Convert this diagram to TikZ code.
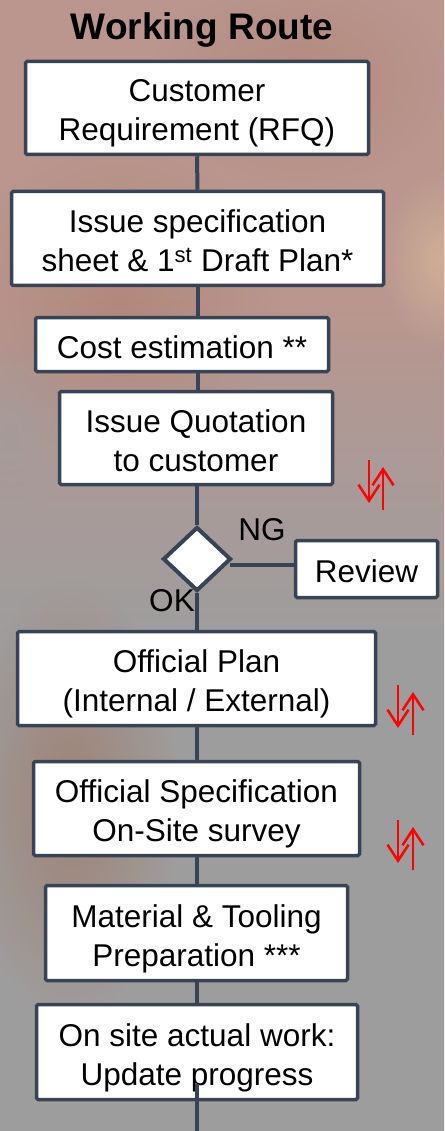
\documentclass[tikz,border=0pt]{standalone}
\usepackage{fontspec}
\setmainfont{Liberation Sans}
\usetikzlibrary{shapes.geometric,arrows.meta,fadings}
\definecolor{boxc}{RGB}{56,68,86}
\definecolor{bgtop}{RGB}{186,150,142}
\definecolor{bgmid}{RGB}{170,154,152}
\definecolor{bgbot}{RGB}{158,157,157}
\definecolor{smoke}{RGB}{160,105,80}
\definecolor{glow}{RGB}{225,195,160}
\definecolor{redc}{RGB}{255,0,0}
\pgfdeclareverticalshading{bgshade}{100bp}{%
  color(0bp)=(bgbot); color(47bp)=(bgbot); color(54bp)=(bgmid);
  color(62bp)=(bgtop); color(100bp)=(bgtop)}
\tikzfading[name=softblob, inner color=transparent!0, outer color=transparent!100]
\newcommand{\sx}{\rule[-7pt]{0pt}{41pt}}
\newcommand{\boxfont}{\fontsize{31.5}{39}\selectfont\lineskiplimit=-60pt\relax\lineskip=0pt\relax}
\tikzset{
  stepbox/.style={draw=boxc, line width=3.5pt, fill=white, rounded corners=1.5pt,
    inner sep=0pt, align=center, font=\boxfont},
  conn/.style={draw=boxc, line width=4pt},
  lbl/.style={font=\fontsize{31.5}{39}\selectfont, inner sep=0pt},
  redarr/.style={draw=redc, line width=2.5pt, -{Straight Barb[length=16pt,width=21pt,line width=2.5pt]}},
  decision/.style={diamond, draw=boxc, line width=4pt, fill=white, inner sep=0pt,
    minimum width=68pt, minimum height=64pt},
  blob/.style={path fading=softblob}
}
\begin{document}
\begin{tikzpicture}[x=1pt,y=-1pt]
\useasboundingbox (0,0) rectangle (444,1131);
\shade[shading=bgshade] (0,0) rectangle (444,1131);
% faint smoke in the background photo
\fill[smoke, opacity=0.5, blob] (70,800) ellipse [x radius=110, y radius=220];
\fill[smoke, opacity=0.30, blob] (120,300) ellipse [x radius=160, y radius=160];
\fill[smoke, opacity=0.25, blob] (300,80) ellipse [x radius=150, y radius=110];
\fill[glow, opacity=0.55, blob] (440,260) ellipse [x radius=60, y radius=90];
\fill[bgbot, opacity=0.5, blob] (10,430) ellipse [x radius=60, y radius=90];

\node[font=\bfseries\fontsize{37}{40}\selectfont, inner sep=0pt] (title) at (202,30) {Working Route};

\node[stepbox, minimum width=343pt, minimum height=93pt] (b1) at (197,108) {\sx Customer\\\sx Requirement (RFQ)};
\node[stepbox, minimum width=372pt, minimum height=94pt] (b2) at (197.5,238.5) {\sx Issue specification\\\sx sheet \& 1\textsuperscript{st} Draft Plan*};
\node[stepbox, minimum width=293pt, minimum height=54pt] (b3) at (182,344.5) {\sx Cost estimation **};
\node[stepbox, minimum width=273pt, minimum height=93pt] (b4) at (196,438) {\sx Issue Quotation\\\sx to customer};
\node[decision] (dia) at (197,559) {};
\node[stepbox, minimum width=142pt, minimum height=57pt] (rev) at (366.5,569) {\sx Review};
\node[stepbox, minimum width=358pt, minimum height=94pt] (b5) at (196.5,678.5) {\sx Official Plan\\\sx (Internal / External)};
\node[stepbox, minimum width=326pt, minimum height=94pt] (b6) at (196.5,808.5) {\sx Official Specification\\\sx On-Site survey};
\node[stepbox, minimum width=302pt, minimum height=95pt] (b7) at (196.5,933) {\sx Material \& Tooling\\\sx Preparation ***};
\node[stepbox, minimum width=321pt, minimum height=95pt] (b8) at (197,1052) {\sx On site actual work:\\\sx Update progress};

\node[lbl] (ng) at (262,530) {NG};
\node[lbl] (ok) at (172,601) {OK};

\coordinate (endtop) at (197,1084);
\coordinate (endbot) at (197,1131);
\coordinate (revy) at (230,565);

\draw[conn] (b1.south) -- (b2.north);
\draw[conn] (b2.south) -- (b3.north -| b2.south);
\draw[conn] (b3.south -| b2.south) -- (b4.north -| b2.south);
\draw[conn] (b4.south -| dia.north) -- (dia.north);
\draw[conn] (dia.south) -- (b5.north -| dia.south);
\draw[conn] (b5.south -| dia.south) -- (b6.north -| dia.south);
\draw[conn] (b6.south -| dia.south) -- (b7.north -| dia.south);
\draw[conn] (b7.south -| dia.south) -- (b8.north -| dia.south);
\draw[conn] (endtop) -- (endbot);
\draw[conn] (revy) -- (revy -| rev.west);

% red arrows
\coordinate (a1s) at (369,460); \coordinate (a1e) at (369,503);
\coordinate (a2s) at (383,510); \coordinate (a2e) at (383,467);
\coordinate (a3s) at (398,685); \coordinate (a3e) at (398,728);
\coordinate (a4s) at (413,735); \coordinate (a4e) at (413,692);
\coordinate (a5s) at (398,820); \coordinate (a5e) at (398,863);
\coordinate (a6s) at (413,870); \coordinate (a6e) at (413,827);
\draw[redarr] (a1s) -- (a1e);
\draw[redarr] (a2s) -- (a2e);
\draw[redarr] (a3s) -- (a3e);
\draw[redarr] (a4s) -- (a4e);
\draw[redarr] (a5s) -- (a5e);
\draw[redarr] (a6s) -- (a6e);
\end{tikzpicture}
\end{document}
